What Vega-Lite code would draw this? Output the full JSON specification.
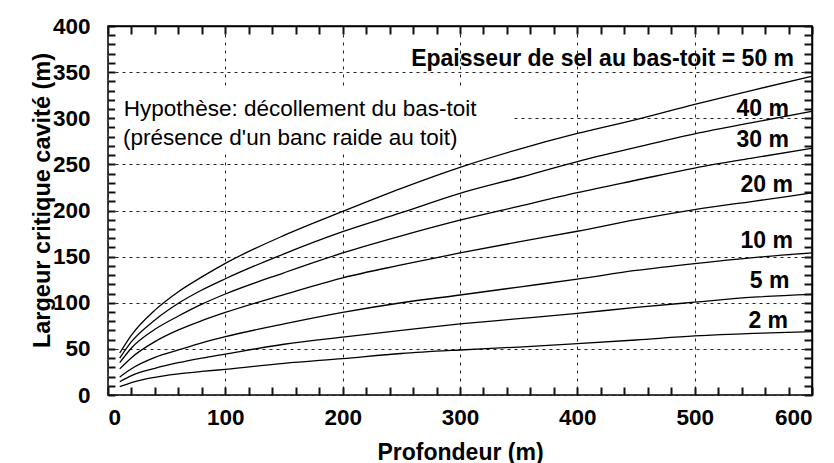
{
  "$schema": "https://vega.github.io/schema/vega-lite/v6.json",
  "width": 704,
  "height": 369,
  "autosize": {"type": "none"},
  "padding": {"left": 108, "top": 26, "right": 22, "bottom": 68},
  "background": "white",
  "config": {
    "view": {"stroke": "black", "strokeWidth": 1.5},
    "font": "Liberation Sans",
    "axis": {"labelFont": "Liberation Sans", "titleFont": "Liberation Sans"}
  },
  "datasets": {
    "curves": [
      {"h": 10, "w": 45.5, "s": "50 m"}, {"h": 20, "w": 65, "s": "50 m"}, {"h": 40, "w": 92, "s": "50 m"}, {"h": 60, "w": 112, "s": "50 m"}, {"h": 80, "w": 128, "s": "50 m"}, {"h": 100, "w": 142.7, "s": "50 m"}, {"h": 150, "w": 173, "s": "50 m"}, {"h": 200, "w": 199, "s": "50 m"}, {"h": 250, "w": 224, "s": "50 m"}, {"h": 300, "w": 246.8, "s": "50 m"}, {"h": 350, "w": 266.3, "s": "50 m"}, {"h": 400, "w": 283.5, "s": "50 m"}, {"h": 450, "w": 298.5, "s": "50 m"}, {"h": 500, "w": 315, "s": "50 m"}, {"h": 550, "w": 330.6, "s": "50 m"}, {"h": 600, "w": 345.5, "s": "50 m"},
      {"h": 10, "w": 40, "s": "40 m"}, {"h": 20, "w": 57.8, "s": "40 m"}, {"h": 40, "w": 81.3, "s": "40 m"}, {"h": 60, "w": 99.4, "s": "40 m"}, {"h": 80, "w": 113.8, "s": "40 m"}, {"h": 100, "w": 126, "s": "40 m"}, {"h": 150, "w": 153, "s": "40 m"}, {"h": 200, "w": 177, "s": "40 m"}, {"h": 250, "w": 197.6, "s": "40 m"}, {"h": 300, "w": 218.6, "s": "40 m"}, {"h": 350, "w": 235.5, "s": "40 m"}, {"h": 400, "w": 253, "s": "40 m"}, {"h": 450, "w": 268.4, "s": "40 m"}, {"h": 500, "w": 283, "s": "40 m"}, {"h": 550, "w": 295.5, "s": "40 m"}, {"h": 600, "w": 307.5, "s": "40 m"},
      {"h": 10, "w": 35, "s": "30 m"}, {"h": 20, "w": 51, "s": "30 m"}, {"h": 40, "w": 71.2, "s": "30 m"}, {"h": 60, "w": 85.6, "s": "30 m"}, {"h": 80, "w": 98.5, "s": "30 m"}, {"h": 100, "w": 109.5, "s": "30 m"}, {"h": 150, "w": 132.5, "s": "30 m"}, {"h": 200, "w": 154, "s": "30 m"}, {"h": 250, "w": 172.5, "s": "30 m"}, {"h": 300, "w": 189.5, "s": "30 m"}, {"h": 350, "w": 204.5, "s": "30 m"}, {"h": 400, "w": 219.3, "s": "30 m"}, {"h": 450, "w": 232.8, "s": "30 m"}, {"h": 500, "w": 246, "s": "30 m"}, {"h": 550, "w": 257, "s": "30 m"}, {"h": 600, "w": 267.4, "s": "30 m"},
      {"h": 10, "w": 28.3, "s": "20 m"}, {"h": 20, "w": 40.5, "s": "20 m"}, {"h": 40, "w": 57.8, "s": "20 m"}, {"h": 60, "w": 70.5, "s": "20 m"}, {"h": 80, "w": 80.6, "s": "20 m"}, {"h": 100, "w": 89.5, "s": "20 m"}, {"h": 150, "w": 108.8, "s": "20 m"}, {"h": 200, "w": 127, "s": "20 m"}, {"h": 250, "w": 141, "s": "20 m"}, {"h": 300, "w": 154, "s": "20 m"}, {"h": 350, "w": 166, "s": "20 m"}, {"h": 400, "w": 177.5, "s": "20 m"}, {"h": 450, "w": 190, "s": "20 m"}, {"h": 500, "w": 201, "s": "20 m"}, {"h": 550, "w": 210, "s": "20 m"}, {"h": 600, "w": 219, "s": "20 m"},
      {"h": 10, "w": 19.5, "s": "10 m"}, {"h": 20, "w": 28.5, "s": "10 m"}, {"h": 40, "w": 40.8, "s": "10 m"}, {"h": 60, "w": 48.8, "s": "10 m"}, {"h": 80, "w": 56.5, "s": "10 m"}, {"h": 100, "w": 63.2, "s": "10 m"}, {"h": 150, "w": 77, "s": "10 m"}, {"h": 200, "w": 89.5, "s": "10 m"}, {"h": 250, "w": 100, "s": "10 m"}, {"h": 300, "w": 108.4, "s": "10 m"}, {"h": 350, "w": 117, "s": "10 m"}, {"h": 400, "w": 125.6, "s": "10 m"}, {"h": 450, "w": 135, "s": "10 m"}, {"h": 500, "w": 142.5, "s": "10 m"}, {"h": 550, "w": 149, "s": "10 m"}, {"h": 600, "w": 154, "s": "10 m"},
      {"h": 10, "w": 14.4, "s": "5 m"}, {"h": 20, "w": 21, "s": "5 m"}, {"h": 40, "w": 28.9, "s": "5 m"}, {"h": 60, "w": 35, "s": "5 m"}, {"h": 80, "w": 40, "s": "5 m"}, {"h": 100, "w": 44.4, "s": "5 m"}, {"h": 150, "w": 55, "s": "5 m"}, {"h": 200, "w": 62.8, "s": "5 m"}, {"h": 250, "w": 70.1, "s": "5 m"}, {"h": 300, "w": 77, "s": "5 m"}, {"h": 350, "w": 82.7, "s": "5 m"}, {"h": 400, "w": 88.5, "s": "5 m"}, {"h": 450, "w": 95, "s": "5 m"}, {"h": 500, "w": 100.6, "s": "5 m"}, {"h": 550, "w": 106, "s": "5 m"}, {"h": 600, "w": 109, "s": "5 m"},
      {"h": 10, "w": 9, "s": "2 m"}, {"h": 20, "w": 13.5, "s": "2 m"}, {"h": 40, "w": 19.2, "s": "2 m"}, {"h": 60, "w": 22.8, "s": "2 m"}, {"h": 80, "w": 25.5, "s": "2 m"}, {"h": 100, "w": 27.8, "s": "2 m"}, {"h": 150, "w": 34.3, "s": "2 m"}, {"h": 200, "w": 39.5, "s": "2 m"}, {"h": 250, "w": 45, "s": "2 m"}, {"h": 300, "w": 48.8, "s": "2 m"}, {"h": 350, "w": 52, "s": "2 m"}, {"h": 400, "w": 55.6, "s": "2 m"}, {"h": 450, "w": 59.6, "s": "2 m"}, {"h": 500, "w": 64, "s": "2 m"}, {"h": 550, "w": 66.8, "s": "2 m"}, {"h": 600, "w": 68.6, "s": "2 m"}
    ],
    "labels": [
      {"t": "Epaisseur de sel au bas-toit = 50 m", "x": 584.7, "y": 356.6},
      {"t": "40 m", "x": 580.4, "y": 302.4},
      {"t": "30 m", "x": 580.4, "y": 268.5},
      {"t": "20 m", "x": 583.8, "y": 220.4},
      {"t": "10 m", "x": 583.8, "y": 159},
      {"t": "5 m", "x": 580.8, "y": 115.7},
      {"t": "2 m", "x": 579.6, "y": 72.3}
    ],
    "hypo": [
      {"t": "Hypothèse: décollement du bas-toit", "x": 13.5, "y": 302.4},
      {"t": "(présence d'un banc raide au toit)", "x": 12.8, "y": 271}
    ],
    "mask": [{"x0": 6, "x1": 345, "y0": 264, "y1": 331}]
  },
  "layer": [
    {
      "data": {"name": "mask"},
      "mark": {"type": "rect", "fill": "white", "strokeWidth": 0},
      "encoding": {
        "x": {
          "field": "x0", "type": "quantitative",
          "scale": {"domain": [0, 600], "nice": false, "zero": false},
          "axis": {
            "orient": "bottom",
            "values": [0, 20, 40, 60, 80, 100, 120, 140, 160, 180, 200, 220, 240, 260, 280, 300, 320, 340, 360, 380, 400, 420, 440, 460, 480, 500, 520, 540, 560, 580, 600],
            "labelExpr": "datum.value % 100 === 0 ? datum.label : ''",
            "title": "Profondeur (m)", "titleFontSize": 23, "titleFontWeight": "bold", "titleColor": "black",
            "titleY": 64, "titleBaseline": "alphabetic",
            "labelFontSize": 22.5, "labelFontWeight": "bold", "labelColor": "black", "labelPadding": 19,
            "ticks": true, "tickSize": -8, "tickColor": "#111", "tickWidth": 2, "tickDash": [20, 1], "domain": false,
            "grid": true, "gridColor": "#222", "gridDash": [3, 5], "gridWidth": 1,
            "gridOpacity": {"condition": {"test": "datum.value % 100 === 0", "value": 1}, "value": 0},
            "zindex": 0
          }
        },
        "x2": {"field": "x1"},
        "y": {
          "field": "y0", "type": "quantitative",
          "scale": {"domain": [0, 400], "nice": false, "zero": false},
          "axis": {
            "orient": "left",
            "values": [0, 10, 20, 30, 40, 50, 60, 70, 80, 90, 100, 110, 120, 130, 140, 150, 160, 170, 180, 190, 200, 210, 220, 230, 240, 250, 260, 270, 280, 290, 300, 310, 320, 330, 340, 350, 360, 370, 380, 390, 400],
            "labelExpr": "datum.value % 50 === 0 ? datum.label : ''",
            "title": "Largeur critique cavité (m)", "titleFontSize": 23.5, "titleFontWeight": "bold", "titleColor": "black",
            "titleX": -59, "titleY": 174, "titleBaseline": "alphabetic", "titleAlign": "center", "titleAngle": -90,
            "labelFontSize": 22.5, "labelFontWeight": "bold", "labelColor": "black", "labelPadding": 25,
            "ticks": true, "tickSize": -7, "tickColor": "#111", "tickWidth": 2, "tickDash": [20, 1], "domain": false,
            "grid": true, "gridColor": "#222", "gridDash": [3, 4], "gridWidth": 1,
            "gridOpacity": {"condition": {"test": "datum.value % 50 === 0", "value": 1}, "value": 0},
            "zindex": 0
          }
        },
        "y2": {"field": "y1"}
      }
    },
    {
      "data": {"name": "curves"},
      "mark": {"type": "line", "color": "black", "strokeWidth": 1.3, "interpolate": "monotone"},
      "encoding": {
        "x": {"field": "h", "type": "quantitative", "scale": {"domain": [0, 600], "nice": false, "zero": false}, "axis": null},
        "y": {"field": "w", "type": "quantitative", "scale": {"domain": [0, 400], "nice": false, "zero": false}, "axis": null},
        "detail": {"field": "s", "type": "nominal"}
      }
    },
    {
      "data": {"name": "labels"},
      "mark": {"type": "text", "align": "right", "baseline": "alphabetic", "fontSize": 23, "fontWeight": "bold", "color": "black", "font": "Liberation Sans"},
      "encoding": {
        "x": {
          "field": "x", "type": "quantitative",
          "scale": {"domain": [0, 600], "nice": false, "zero": false},
          "axis": {
            "orient": "top", "values": [0, 20, 40, 60, 80, 100, 120, 140, 160, 180, 200, 220, 240, 260, 280, 300, 320, 340, 360, 380, 400, 420, 440, 460, 480, 500, 520, 540, 560, 580, 600],
            "title": null, "labels": true, "labelExpr": "''", "grid": false,
            "domain": true, "domainColor": "black", "domainWidth": 1.5,
            "ticks": true, "tickSize": -8, "tickColor": "#111", "tickWidth": 2, "tickDash": [20, 1], "zindex": 1
          }
        },
        "y": {
          "field": "y", "type": "quantitative",
          "scale": {"domain": [0, 400], "nice": false, "zero": false},
          "axis": {
            "orient": "right", "values": [0, 10, 20, 30, 40, 50, 60, 70, 80, 90, 100, 110, 120, 130, 140, 150, 160, 170, 180, 190, 200, 210, 220, 230, 240, 250, 260, 270, 280, 290, 300, 310, 320, 330, 340, 350, 360, 370, 380, 390, 400],
            "title": null, "labels": true, "labelExpr": "''", "grid": false,
            "domain": true, "domainColor": "black", "domainWidth": 1.5,
            "ticks": true, "tickSize": -8, "tickColor": "#111", "tickWidth": 2, "tickDash": [20, 1], "zindex": 1
          }
        },
        "text": {"field": "t", "type": "nominal"}
      }
    },
    {
      "data": {"name": "hypo"},
      "mark": {"type": "text", "align": "left", "baseline": "alphabetic", "fontSize": 22.5, "fontWeight": "normal", "color": "black", "font": "Liberation Sans"},
      "encoding": {
        "x": {"field": "x", "type": "quantitative", "scale": {"domain": [0, 600], "nice": false, "zero": false}, "axis": null},
        "y": {"field": "y", "type": "quantitative", "scale": {"domain": [0, 400], "nice": false, "zero": false}, "axis": null},
        "text": {"field": "t", "type": "nominal"}
      }
    }
  ],
  "resolve": {"axis": {"x": "independent", "y": "independent"}}
}
